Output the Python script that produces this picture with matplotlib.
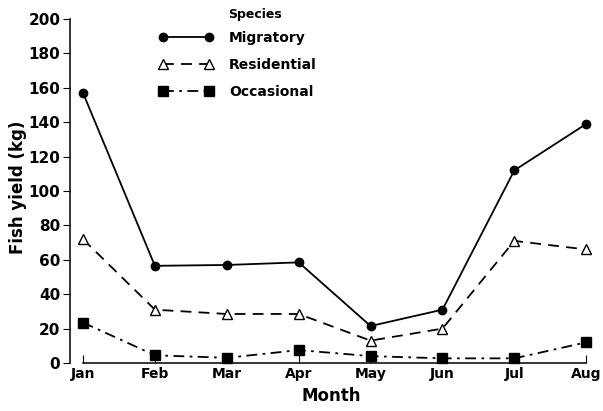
import matplotlib
matplotlib.use("Agg")
import matplotlib.pyplot as plt

# Monthly fish yield by species group
months = ["Jan", "Feb", "Mar", "Apr", "May", "Jun", "Jul", "Aug"]
migratory = [157, 56.5, 57, 58.5, 21.5, 31, 112, 139]
residential = [72, 31, 28.5, 28.5, 13, 20, 71, 66]
occasional = [23.5, 4.5, 3, 7.5, 4, 2.7, 2.7, 12]
yticks = [0, 20, 40, 60, 80, 100, 120, 140, 160, 180, 200]

plt.rcParams['font.family'] = ['DejaVu Sans']
plt.rcParams['font.weight'] = 'bold'
plt.rcParams['axes.labelweight'] = 'bold'

fig = plt.figure(figsize=(6.03, 4.11), dpi=100)
ax = fig.add_axes([70 / 603, 48 / 411, 522 / 603, 344 / 411])

x = range(len(months))
ax.plot(x, migratory, "k-", marker="o", ms=6, lw=1.3, label="Migratory", clip_on=False)
ax.plot(x, residential, "k--", marker="^", ms=7, mfc="white", lw=1.3,
        dashes=(6, 4), label="Residential", clip_on=False)
ax.plot(x, occasional, "k-.", marker="s", ms=6.5, lw=1.3,
        dashes=(6, 3, 1.5, 3), label="Occasional", clip_on=False)

ax.set_xlim(-0.181, 7.08)
ax.set_ylim(0, 200)
ax.set_xticks(list(x))
ax.set_xticklabels(months, fontsize=10)
ax.set_yticks(yticks)
ax.set_yticklabels([str(v) for v in yticks], fontsize=11)

for side in ("top", "right"):
    ax.spines[side].set_visible(False)
ax.spines["bottom"].set_bounds(0, 7)
ax.spines["left"].set_linewidth(1.1)
ax.spines["bottom"].set_linewidth(1.1)
ax.tick_params(axis="x", direction="in", length=6, pad=3)
ax.tick_params(axis="y", direction="out", length=5, pad=2)

ax.set_xlabel("Month", fontsize=12, labelpad=4)
ax.set_ylabel("Fish yield (kg)", fontsize=12)
ax.yaxis.set_label_coords(-0.083, 0.51)

ax.legend(loc="upper left", bbox_to_anchor=(0.146, 1.002),
          frameon=False, numpoints=2, handlelength=3.95, fontsize=10,
          labelspacing=0.95, handletextpad=1.1)
# legend heading sits over the label column
ax.text(0.303, 1.012, "Species", transform=ax.transAxes, fontsize=9,
        ha="left", va="center")

fig.savefig("out.png", dpi=100)
